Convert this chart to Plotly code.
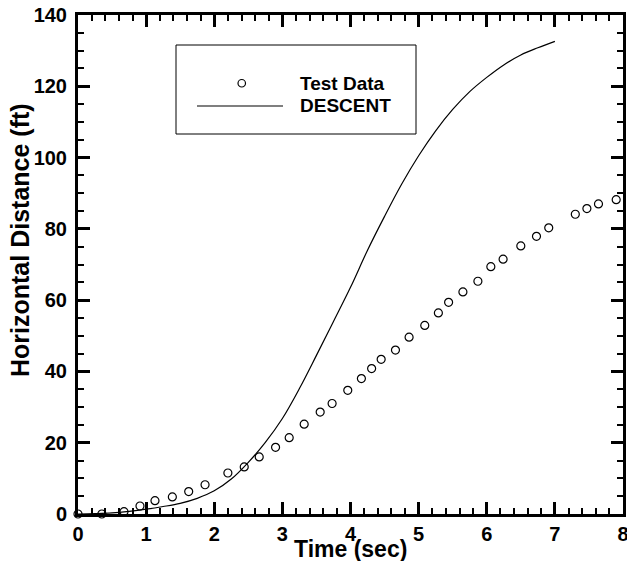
import plotly.graph_objects as go

# Test data (time in sec, horizontal distance in ft)
test_time = [0.0, 0.35, 0.675, 0.91, 1.13, 1.385, 1.625, 1.865, 2.2, 2.44, 2.66, 2.9,
             3.1, 3.32, 3.555, 3.73, 3.96, 4.16, 4.31, 4.45, 4.66, 4.86, 5.09, 5.29,
             5.44, 5.65, 5.87, 6.06, 6.24, 6.5, 6.73, 6.91, 7.3, 7.47, 7.64, 7.9]
test_dist = [0.0, 0.0, 0.65, 2.25, 3.75, 4.8, 6.3, 8.2, 11.5, 13.2, 16.0, 18.7,
             21.4, 25.2, 28.6, 31.0, 34.7, 38.0, 40.8, 43.4, 46.0, 49.6, 52.9, 56.4,
             59.4, 62.3, 65.3, 69.4, 71.5, 75.2, 77.9, 80.3, 84.1, 85.7, 87.0, 88.2]

# DESCENT prediction
descent_time = [0.0, 0.25, 0.5, 0.75, 1.0, 1.25, 1.5, 1.75, 2.0, 2.25, 2.5, 2.75,
                3.0, 3.25, 3.5, 3.75, 4.0, 4.25, 4.5, 4.75, 5.0, 5.25, 5.5, 5.75,
                6.0, 6.25, 6.5, 6.75, 7.0]
descent_dist = [0.0, 0.1, 0.3, 0.75, 1.35, 2.1, 3.0, 4.4, 6.5, 9.8, 14.5, 20.1,
                26.8, 35.2, 44.5, 54.0, 63.6, 74.0, 83.5, 92.5, 100.5, 107.5, 113.5, 118.5,
                122.5, 126.0, 128.8, 130.8, 132.6]

x_ticks = [0, 1, 2, 3, 4, 5, 6, 7, 8]
y_ticks = [0, 20, 40, 60, 80, 100, 120, 140]
x_minor_step = 0.2
y_minor_step = 5

FONT = "Liberation Sans, Arial, sans-serif"

W, H = 627, 561
ML, MR, MT, MB = 78, 4, 15, 47
PW, PH = W - ML - MR, H - MT - MB

fig = go.Figure()
fig.add_trace(go.Scatter(
    x=descent_time, y=descent_dist, mode="lines", name="DESCENT",
    line=dict(color="black", width=1.2, shape="spline", smoothing=1.0),
    showlegend=False,
))
fig.add_trace(go.Scatter(
    x=test_time, y=test_dist, mode="markers", name="Test Data",
    marker=dict(symbol="circle-open", size=8, color="black", line=dict(width=1.2)),
    cliponaxis=False, showlegend=False,
))

tickfont = dict(family=FONT, size=20, color="black", weight="bold")
axis_common = dict(
    showline=True, linecolor="black", linewidth=3, mirror="allticks",
    ticks="inside", ticklen=12, tickwidth=3, tickcolor="black",
    showgrid=False, zeroline=False, tickmode="linear",
    tickfont=tickfont, ticklabeloverflow="allow", automargin=False,
)

fig.update_xaxes(
    range=[x_ticks[0], x_ticks[-1]], tick0=x_ticks[0], dtick=x_ticks[1] - x_ticks[0],
    minor=dict(dtick=x_minor_step, ticks="inside", ticklen=6, tickwidth=1.5,
               tickcolor="black", showgrid=False),
    **axis_common,
)
fig.update_yaxes(
    range=[y_ticks[0], y_ticks[-1]], tick0=y_ticks[0], dtick=y_ticks[1] - y_ticks[0],
    minor=dict(dtick=y_minor_step, ticks="inside", ticklen=6, tickwidth=1.5,
               tickcolor="black", showgrid=False),
    ticklabelstandoff=4,
    **axis_common,
)

fig.update_layout(
    width=W, height=H,
    margin=dict(l=ML, r=MR, t=MT, b=MB),
    paper_bgcolor="white", plot_bgcolor="white",
    showlegend=False,
)

xd = lambda px: (px - ML) / PW
yd = lambda py: 1 - (py - MT) / PH

# axis titles placed as in the reference
fig.add_annotation(xref="paper", yref="paper", x=0.5, y=yd(549),
                   text="<b>Time (sec)</b>", showarrow=False,
                   xanchor="center", yanchor="middle",
                   font=dict(family=FONT, size=23, color="black"))
fig.add_annotation(xref="paper", yref="paper", x=xd(20), y=yd(240),
                   text="<b>Horizontal Distance (ft)</b>", textangle=-90, showarrow=False,
                   xanchor="center", yanchor="middle",
                   font=dict(family=FONT, size=25, color="black"))

# Legend box drawn as layout decoration
fig.add_shape(type="rect", xref="paper", yref="paper",
              x0=xd(176), x1=xd(416), y0=yd(134), y1=yd(45),
              line=dict(color="black", width=1), fillcolor="white")
fig.add_shape(type="circle", xref="paper", yref="paper",
              x0=xd(238), x1=xd(245.5), y0=yd(87), y1=yd(79.5),
              line=dict(color="black", width=1.2))
fig.add_shape(type="line", xref="paper", yref="paper",
              x0=xd(197), x1=xd(283), y0=yd(106), y1=yd(106),
              line=dict(color="black", width=1.2))
fig.add_annotation(xref="paper", yref="paper", x=xd(298), y=yd(83),
                   text="<b>Test Data</b>", showarrow=False, xanchor="left", yanchor="middle",
                   font=dict(family=FONT, size=19, color="black"))
fig.add_annotation(xref="paper", yref="paper", x=xd(298), y=yd(106),
                   text="<b>DESCENT</b>", showarrow=False, xanchor="left", yanchor="middle",
                   font=dict(family=FONT, size=19, color="black"))

fig.write_html("out.html")
